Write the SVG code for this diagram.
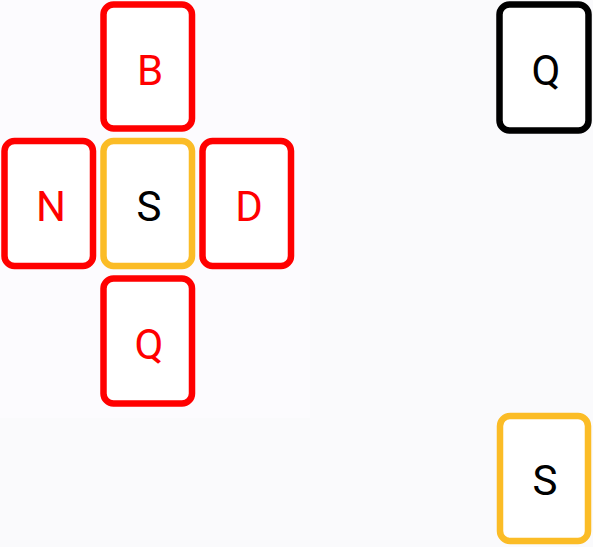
<svg xmlns="http://www.w3.org/2000/svg" width="593" height="547" viewBox="0 0 593 547">
<style>
.card{fill:#ffffff;stroke-width:6.5}
.red{stroke:#ff0000}
.org{stroke:#fbbc26}
.blk{stroke:#000000}
text{font-family:Roboto,"Liberation Sans",sans-serif;font-size:42px;text-anchor:middle;dominant-baseline:central}
.tr{fill:#ff0000}
.tb{fill:#000000}
</style>
<rect x="0" y="0" width="593" height="547" fill="#fafafc"/>
<rect x="0" y="0" width="310" height="418" fill="#fcfbfe"/>
<g id="connectors"></g>
<g id="card-B"><rect class="card red" x="103.5" y="4.5" width="88.5" height="124" rx="10"/><text class="tr" x="150" y="70">B</text></g>
<g id="card-N"><rect class="card red" x="4.5" y="141" width="88.5" height="125" rx="10"/><text class="tr" x="51" y="206">N</text></g>
<g id="card-S"><rect class="card org" x="103.5" y="141" width="88.5" height="125" rx="10"/><text class="tb" x="149" y="206">S</text></g>
<g id="card-D"><rect class="card red" x="202.5" y="141" width="88.5" height="125" rx="10"/><text class="tr" x="249" y="206">D</text></g>
<g id="card-Q"><rect class="card red" x="103.5" y="278.5" width="88.5" height="125" rx="10"/><text class="tr" x="149" y="344">Q</text></g>
<g id="card-Q2"><rect class="card blk" x="499.5" y="4.5" width="89" height="126" rx="10"/><text class="tb" x="546" y="70">Q</text></g>
<g id="card-S2"><rect class="card org" x="500" y="416" width="88" height="125" rx="10"/><text class="tb" x="545" y="480">S</text></g>
</svg>
